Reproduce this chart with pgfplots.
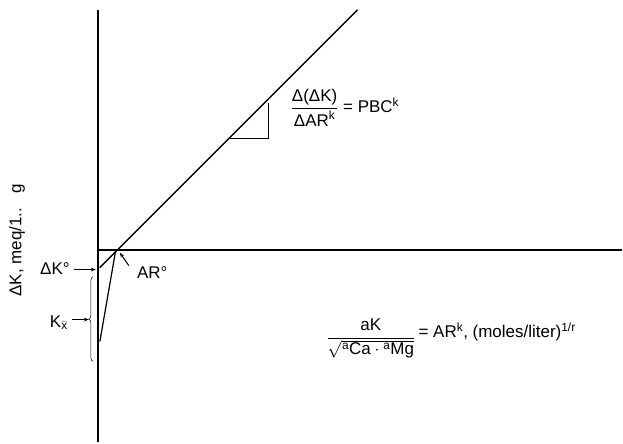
\documentclass[border=0pt]{standalone}
\usepackage{amsmath}
\usepackage{fontspec}
\setmainfont{Liberation Sans}
\usepackage{pgfplots}
\pgfplotsset{compat=1.18}
\usetikzlibrary{decorations.pathreplacing,arrows.meta}

\begin{document}
\begin{tikzpicture}[lbl/.style={font=\fontsize{17}{20}\selectfont,inner sep=1pt}]
\begin{axis}[width=623pt,height=443pt,scale only axis,
  xmin=0,xmax=623,ymin=0,ymax=443,hide axis,clip=false]
% frame of the page (invisible)
\addplot[draw=none] coordinates {(0,0) (623,443)};
% axes
\addplot[line width=1.6pt] coordinates {(98,433) (98,0)};
\addplot[line width=1.8pt] coordinates {(98,193) (623,193)};
% main line, slope PBC^k
\addplot[line width=1.4pt] coordinates {(100,175) (358,433)};
% steep line down to K_x
\addplot[line width=1.2pt] coordinates {(100,101) (116,193)};
% slope triangle
\addplot[line width=1.3pt] coordinates {(230,304) (269,304) (269,340)};
% arrows
\addplot[line width=1pt,-{Stealth[length=5pt]}] coordinates {(74,173) (96,173)};
\addplot[line width=1pt,-{Stealth[length=5pt]}] coordinates {(72,123) (89,123)};
\addplot[line width=1pt,-{Stealth[length=5pt]}] coordinates {(129,177) (120,190)};
\draw[line width=0.5pt,decorate,decoration={brace,amplitude=4pt,mirror}]
  (axis cs:93,166) -- (axis cs:93,81);

\node[lbl,anchor=east] at (axis cs:71,174) {ΔK°};
\node[lbl,anchor=east] at (axis cs:69,120) {K$_{\bar{\text{x}}}$};
\node[lbl,anchor=west] at (axis cs:136,170) {AR°};
\node[lbl,rotate=90,anchor=west] at (axis cs:17,145) {ΔK, meq/1..\ \ \ g};
\node[lbl,anchor=west] at (axis cs:290,335)
  {$\dfrac{\text{Δ(ΔK)}}{\text{ΔAR}^{\text{k}}}$ = PBC\textsuperscript{k}};
\node[lbl,anchor=base east] at (axis cs:417,100)
  {$\dfrac{\text{aK}}{\sqrt{{}^{\text{a}}\text{Ca}\cdot{}^{\text{a}}\text{Mg}}}$};
\node[lbl,anchor=base west] at (axis cs:418,105)
  {= AR\textsuperscript{k}, (moles/liter)\textsuperscript{1/r}};
\end{axis}
\end{tikzpicture}
\end{document}
